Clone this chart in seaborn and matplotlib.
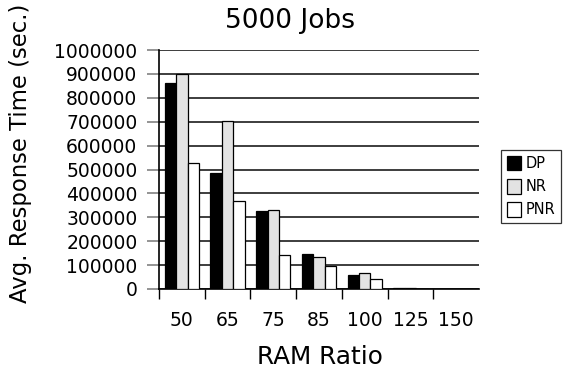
import numpy as np
import pandas as pd
import matplotlib
matplotlib.use("Agg")
import matplotlib.pyplot as plt
import seaborn as sns

# Average response time per RAM ratio for each scheduling policy
ratios = ["50", "65", "75", "85", "100", "125", "150"]
dp_times = [863000, 485000, 328000, 146000, 60000, 5000, 2000]
nr_times = [900000, 704000, 330000, 135000, 66000, 3000, 2000]
pnr_times = [527000, 369000, 141000, 97000, 42000, 2000, 1000]
policies = ["DP", "NR", "PNR"]
y_ticks = [0, 100000, 200000, 300000, 400000, 500000, 600000, 700000,
           800000, 900000, 1000000]

df = pd.DataFrame({
    "ratio": ratios * 3,
    "time": dp_times + nr_times + pnr_times,
    "policy": [p for p in policies for _ in ratios],
})

sns.set_style("white")
plt.rcParams["font.family"] = ["DejaVu Sans"]
plt.rcParams["text.color"] = "black"
plt.rcParams["xtick.labelcolor"] = "black"
plt.rcParams["ytick.labelcolor"] = "black"

fig = plt.figure(figsize=(5.65, 3.70), dpi=100)
ax = fig.add_axes([159 / 565, 1 - 289 / 370, (479 - 159) / 565, (289 - 50) / 370])

sns.barplot(data=df, x="ratio", y="time", hue="policy", order=ratios,
            hue_order=policies, palette=["#000000", "#e3e3e3", "#ffffff"],
            edgecolor="black", linewidth=0.9, width=0.75, ax=ax, zorder=3)

ax.set_xlim(-0.5, len(ratios) - 0.5)
ax.set_ylim(0, 1000000)
ax.set_yticks(y_ticks)
ax.set_yticklabels([str(t) for t in y_ticks], fontsize=13.5, color="black")
ax.yaxis.grid(True, color="#2e2e2e", linewidth=1.3, zorder=0)
ax.set_axisbelow(True)
ax.tick_params(axis="y", left=True, length=8.5, width=1.1, color="#777777",
               pad=7)

ax.set_xticks(range(len(ratios)))
ax.set_xticklabels(ratios, fontsize=13.5, color="black")
ax.tick_params(axis="x", which="major", length=0, pad=16)
ax.set_xticks(np.arange(-0.5, len(ratios) - 1, 1.0), minor=True)
ax.tick_params(axis="x", which="minor", bottom=True, length=7.2, width=1,
               color="black")

for side in ["top", "right"]:
    ax.spines[side].set_visible(False)
for side in ["left", "bottom"]:
    ax.spines[side].set_color("black")
    ax.spines[side].set_linewidth(1.2)

ax.set_xlabel("")
ax.set_ylabel("")
handles, labels = ax.get_legend_handles_labels()
ax.get_legend().remove()

fig.text(290 / 565, 1 - 21 / 370, "5000 Jobs", ha="center", va="center",
         fontsize=19)
fig.text(320 / 565, 1 - 357 / 370, "RAM Ratio", ha="center", va="center",
         fontsize=17.8)
fig.text(21 / 565, 1 - 153 / 370, "Avg. Response Time (sec.)", ha="center",
         va="center", rotation=90, fontsize=16.4)

leg = fig.legend(handles, labels, loc="upper left",
                 bbox_to_anchor=(501 / 565, 1 - 150 / 370), fontsize=10.5,
                 frameon=True, fancybox=False, edgecolor="black",
                 handlelength=1.0, handleheight=1.15, handletextpad=0.3,
                 borderpad=0.4, labelspacing=0.55, borderaxespad=0)
leg.get_frame().set_linewidth(0.9)

fig.savefig("out.png", dpi=100, facecolor="white")
